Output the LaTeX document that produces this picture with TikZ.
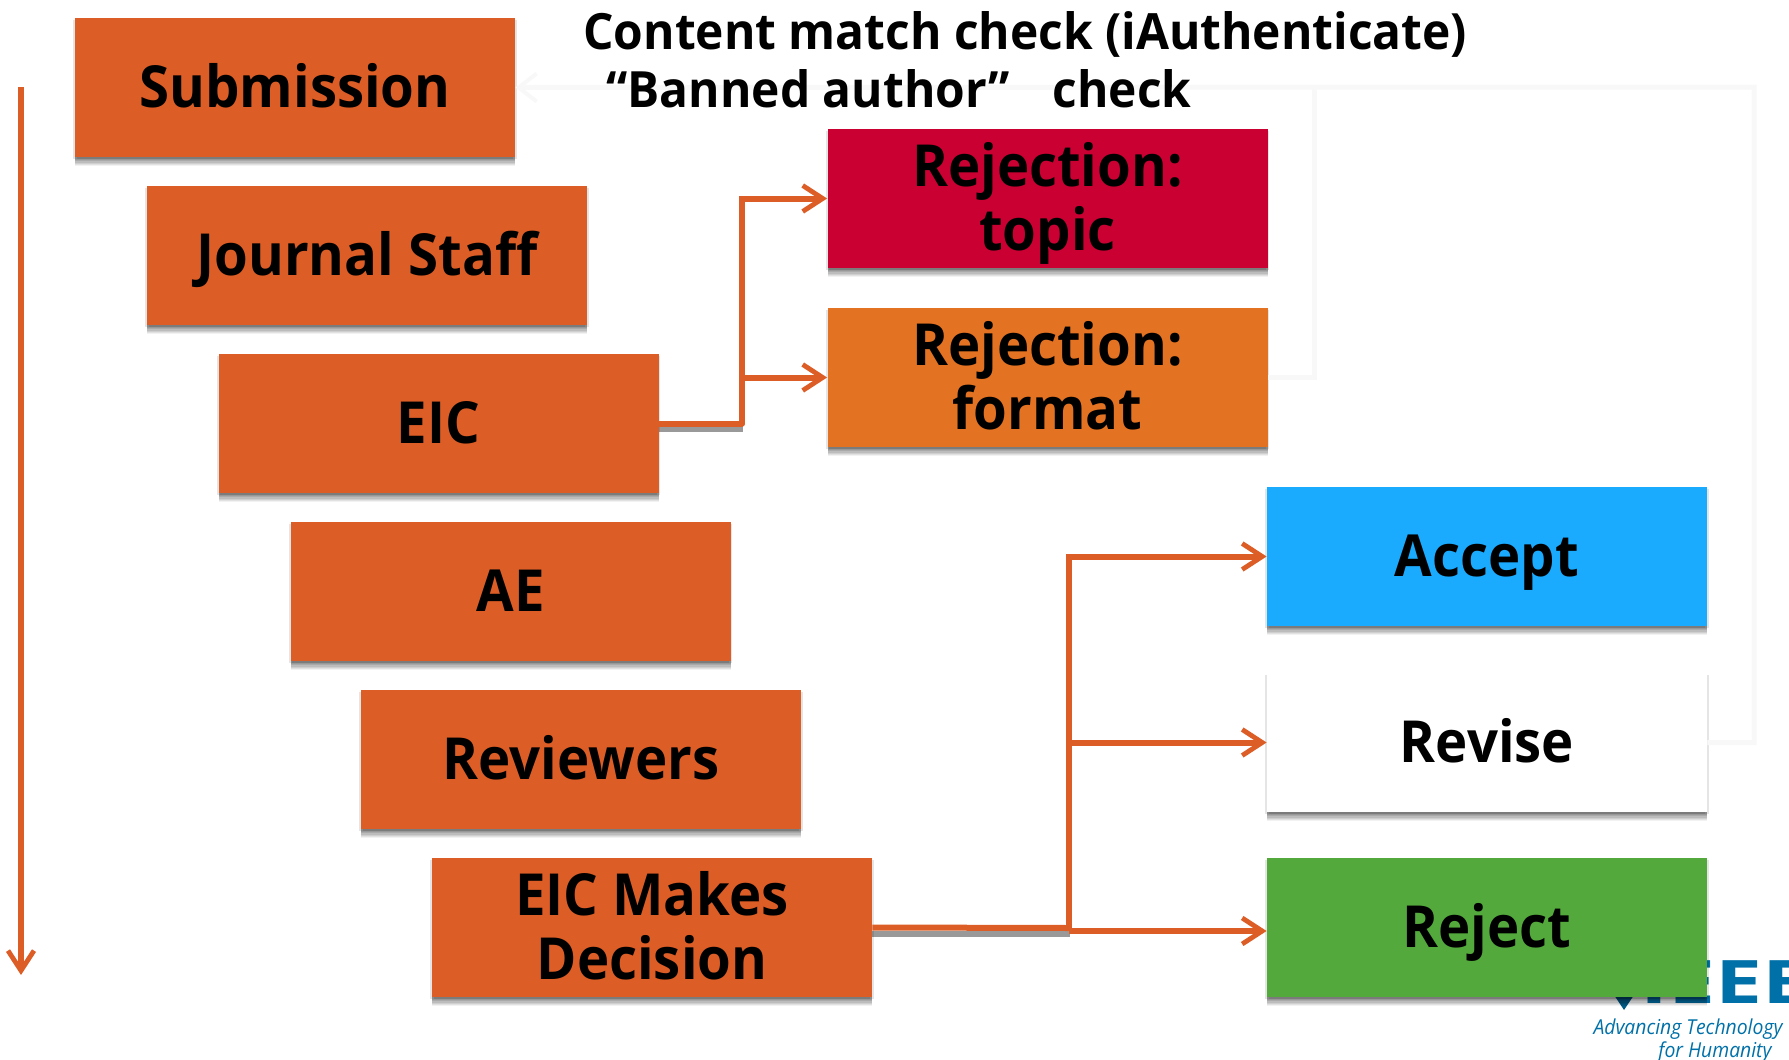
\documentclass[tikz,border=0pt]{standalone}
\usepackage{fontspec}
\setmainfont[FakeStretch=0.94]{Open Sans}
\newfontfamily\titlefont[FakeStretch=0.958]{Open Sans}
\newfontfamily\logofont[FakeStretch=1.4]{Open Sans}
\usetikzlibrary{shadows,arrows.meta}
\definecolor{boxorange}{HTML}{DC5D26}
\definecolor{boxred}{HTML}{CA0033}
\definecolor{boxamber}{HTML}{E37222}
\definecolor{boxblue}{HTML}{1AABFF}
\definecolor{boxgreen}{HTML}{53A93C}
\definecolor{faint}{HTML}{F8F8F8}
\definecolor{ieeeblue}{HTML}{0070A8}
\newcommand{\cardline}[1]{\rule[-6pt]{0pt}{31.5pt}\smash{#1}}
\tikzset{
  x=0.5pt,y=-0.5pt,
  softshadow/.style={
    drop shadow={shadow xshift=0.8pt,shadow yshift=-1pt,fill=black,opacity=.1},
    drop shadow={shadow xshift=-0.8pt,shadow yshift=-1pt,fill=black,opacity=.1},
    drop shadow={shadow xshift=0pt,shadow yshift=-4.6pt,fill=black,opacity=.05},
    drop shadow={shadow xshift=0pt,shadow yshift=-4pt,fill=black,opacity=.07},
    drop shadow={shadow xshift=0pt,shadow yshift=-3.4pt,fill=black,opacity=.08},
    drop shadow={shadow xshift=0pt,shadow yshift=-2.8pt,fill=black,opacity=.09},
    drop shadow={shadow xshift=0pt,shadow yshift=-2.2pt,fill=black,opacity=.1},
    drop shadow={shadow xshift=0pt,shadow yshift=-1.5pt,fill=black,opacity=.1}},
  card/.style={rectangle,inner sep=0pt,minimum width=220pt,minimum height=69.5pt,align=center,text=black,
    font=\fontsize{29}{32}\selectfont\bfseries,softshadow},
  link/.style={draw=boxorange,line width=3pt,-{Straight Barb[length=10pt,width=13pt,line width=2.4pt]}},
  linkplain/.style={draw=boxorange,line width=3pt},
  lineshade/.style={draw=black,opacity=.4,line width=3pt},
  ghost/.style={draw=faint,line width=2.5pt},
  title/.style={anchor=base west,inner sep=0pt,font=\titlefont\fontsize{25}{30}\selectfont\bfseries,text=black},
  tag/.style={inner sep=0pt,font=\fontsize{10.3}{12}\selectfont\itshape,text=ieeeblue},
}
\begin{document}
\begin{tikzpicture}
\useasboundingbox (0,0) rectangle (1789,1060);
\clip (0,0) rectangle (1789,1060);
% logo behind the Reject box
\node[anchor=base west,inner sep=0pt,font=\logofont\fontsize{30}{30}\selectfont\bfseries,text=ieeeblue] (logo) at (1640,1003) {IEEE};
\fill[ieeeblue!80!black] (1612,992) -- (1636,992) -- (1624,1010) -- cycle;
\node[tag] (tag1) at (1688,1029) {Advancing Technology};
\node[tag] (tag2) at (1715,1052) {for Humanity};
% boxes
\node[card,fill=boxorange] (sub) at (295,87.5) {\cardline{Submission}};
\node[card,fill=boxorange] (staff) at (367,255.5) {\cardline{Journal Staff}};
\node[card,fill=boxorange] (eic) at (438.5,423.5) {\cardline{EIC}};
\node[card,fill=boxorange] (ae) at (510.5,591.5) {\cardline{AE}};
\node[card,fill=boxorange] (rev) at (581,759.5) {\cardline{Reviewers}};
\node[card,fill=boxorange] (dec) at (652,927.5) {\cardline{EIC Makes}\\\cardline{Decision}};
\node[card,fill=boxred] (topic) at (1047.5,198.5) {\cardline{Rejection:}\\\cardline{topic}};
\node[card,fill=boxamber] (format) at (1047.5,377.5) {\cardline{Rejection:}\\\cardline{format}};
\node[card,fill=boxblue] (accept) at (1487,556.5) {\cardline{Accept}};
\node[card,fill=white] (revise) at (1487,742.5) {\cardline{Revise}};
\node[card,fill=boxgreen] (reject) at (1487,927.5) {\cardline{Reject}};
% faint return lines
\coordinate (top) at (1754,87);
\draw[ghost,-{Straight Barb[length=9pt,width=14pt,line width=2pt]}] (revise.east) -| (top) -- (sub.east);
\draw[ghost] (format.east) -| (1314,87);
% title
\node[title] (t1) at (583,49) {Content match check (iAuthenticate)};
\node[title] (t2) at (606,107) {“Banned author”\hspace{0.85em}check};
% timeline
\coordinate (tla) at (21,87);
\coordinate (tlb) at (21,975);
\draw[link,line width=2.7pt] (tla) -- (tlb);
% EIC connectors
\coordinate (e1) at (742,423.5);
\draw[lineshade] (eic.east) ++(0,5) -- (743,428.5);
\draw[linkplain,line cap=round] (eic.east) -- (e1);
\draw[link] (e1) |- (topic.west);
\draw[link] (e1) |- (format.west);
% decision connectors
\coordinate (d1) at (1069,931);
\draw[lineshade] (dec.east) ++(0,6) -- (1070,933.5);
\draw[linkplain] (dec.east) -- (1069,928);
\draw[link] (d1) |- (accept.west);
\draw[link] (d1) |- (revise.west);
\draw[link] (d1) -- (reject.west |- d1);
\end{tikzpicture}
\end{document}
